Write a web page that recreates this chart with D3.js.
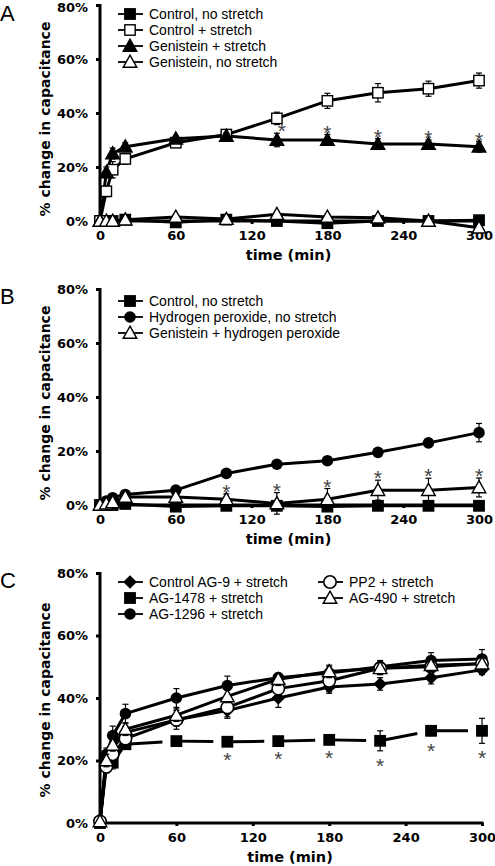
<!DOCTYPE html>
<html><head><meta charset="utf-8">
<script src="https://cdn.jsdelivr.net/npm/d3@7"></script>
<style>body{margin:0;background:#fff}svg{display:block}</style>
</head><body><svg id="c" width="495" height="866"></svg>
<script>
// ---------- DATA ----------
const times = [0, 5, 10, 20, 60, 100, 140, 180, 220, 260, 300];
const xTicks = [0, 60, 120, 180, 240, 300];
const yTicks = [0, 20, 40, 60, 80];

// Panel A
const aControlNoStretch    = [0, 0, 0, 0.5, -0.5, 0.5, 0, -0.8, 0, 0, 0.3];
const aControlNoStretchErr = [0, 0, 0, 0, 0.5, 0.5, 0.5, 0.5, 0.5, 0.5, 0.5];
const aControlStretch      = [0, 11, 19, 23, 29, 32, 38, 44.5, 47.5, 49, 52];
const aControlStretchErr   = [0, 2, 3, 2, 1.5, 1, 2.3, 2.8, 3.4, 2.8, 2.8];
const aGenStretch          = [0, 18, 25, 27.5, 30.5, 31.5, 30, 30, 28.5, 28.5, 27.5];
const aGenStretchErr       = [0, 2, 2, 1.5, 1, 1, 2.5, 2, 2, 1.5, 2];
const aGenNoStretch        = [0, 0, 0, 0.5, 1.5, 0.7, 2.5, 1.5, 1.2, 0, -2.5];
const aGenNoStretchErr     = [0, 0, 0, 0, 1, 0.5, 1, 1, 1, 0.5, 1];
const aLabels = ["Control, no stretch", "Control + stretch", "Genistein + stretch", "Genistein, no stretch"];
const aStarTimes = [140, 180, 220, 260, 300];

// Panel B
const bControlNoStretch    = [0, 0, 0, 0.4, -0.6, -0.3, -0.3, -0.6, -0.3, -0.3, -0.3];
const bControlNoStretchErr = [0, 0, 0, 0, 0.3, 0.3, 0.3, 0.3, 0.3, 0.3, 0.3];
const bH2O2                = [0, 1.5, 2.7, 3.9, 5.5, 11.7, 15.1, 16.4, 19.5, 23, 26.8];
const bH2O2Err             = [0, 0.5, 0.5, 0.5, 1, 1, 1, 1, 1, 1.5, 3.4];
const bGenH2O2             = [0, 0.5, 1, 3, 3, 2.1, 0.6, 2.1, 5.5, 5.5, 6.5];
const bGenH2O2Err          = [0, 0.5, 0.5, 1, 1, 2, 4, 4, 3.7, 4.4, 3.5];
const bLabels = ["Control, no stretch", "Hydrogen peroxide, no stretch", "Genistein + hydrogen peroxide"];
const bStarTimes = [100, 140, 180, 220, 260, 300];

// Panel C
const cAG9      = [1, 20, 24, 29, 33, 36, 40, 43.5, 44.5, 46.5, 49];
const cAG9Err   = [0, 2, 2, 2, 2, 2, 3, 2, 2, 2, 1.5];
const cAG1478   = [0, 20, 19.3, 25.2, 26.2, 26, 26.2, 26.6, 26.3, 29.5, 29.5];
const cAG1478Err= [0, 2, 2, 1, 1, 1, 1, 1, 3.2, 1.5, 4];
const cAG1296   = [0.5, 22, 28, 35, 40, 44, 46.5, 48, 50, 52, 52.5];
const cAG1296Err= [0, 2, 3, 3, 3, 3, 1, 2, 2, 2.5, 3];
const cPP2      = [0.5, 18, 22, 27, 33, 37, 43, 45.5, 49.5, 50, 51];
const cPP2Err   = [0, 2, 2, 2, 3, 3.5, 2, 3.5, 2, 2, 2];
const cAG490    = [0.5, 20, 25, 30, 34.5, 40.5, 46, 48.5, 49.5, 50.5, 51];
const cAG490Err = [0, 2, 2, 2, 2, 2, 2, 2, 2, 2, 2];
const cLabels = ["Control AG-9 + stretch", "AG-1478 + stretch", "AG-1296 + stretch", "PP2 + stretch", "AG-490 + stretch"];
const cStarTimes = [100, 140, 180, 220, 260, 300];

// ---------- DRAWING ----------
const svg = d3.select("#c");
const tickFont = "'DejaVu Sans', Verdana, sans-serif";
const legFont = "'Liberation Sans', Arial, sans-serif";

function drawMarker(g, type, x, y) {
  const s = 5.2;
  if (type === "sqFill" || type === "sqOpen") {
    g.append("rect").attr("x", x - s).attr("y", y - s).attr("width", 2 * s).attr("height", 2 * s)
      .attr("fill", type === "sqFill" ? "#000" : "#fff").attr("stroke", "#000").attr("stroke-width", 1.4);
  } else if (type === "triFill" || type === "triOpen") {
    const t = 6.8;
    g.append("path").attr("d", `M${x},${y - t}L${x + t},${y + t * 0.78}L${x - t},${y + t * 0.78}Z`)
      .attr("fill", type === "triFill" ? "#000" : "#fff").attr("stroke", "#000").attr("stroke-width", 1.4)
      .attr("stroke-linejoin", "miter");
  } else if (type === "cirFill") {
    g.append("circle").attr("cx", x).attr("cy", y).attr("r", 5.8).attr("fill", "#000");
  } else if (type === "cirOpen") {
    g.append("circle").attr("cx", x).attr("cy", y).attr("r", 6.2).attr("fill", "#fff")
      .attr("stroke", "#000").attr("stroke-width", 1.6);
  } else if (type === "diamond") {
    const d = 6.8;
    g.append("path").attr("d", `M${x},${y - d}L${x + d},${y}L${x},${y + d}L${x - d},${y}Z`).attr("fill", "#000");
  }
}

function panel(cfg) {
  const g = svg.append("g");
  const x = d3.scaleLinear().domain([0, 300]).range([cfg.x0, cfg.x1]);
  const y = d3.scaleLinear().domain([0, 80]).range([cfg.yBottom, cfg.yTop]);

  // y axis
  const ya = g.append("g").attr("transform", `translate(${cfg.x0},0)`)
    .call(d3.axisLeft(y).tickValues(yTicks).tickFormat(d => d + "%").tickSize(4).tickPadding(8));
  ya.select(".domain").attr("stroke-width", 3).attr("d", `M0,${cfg.yTop - 1}V${cfg.yBottom + 1.5}`);
  ya.selectAll(".tick line").attr("stroke-width", 3);
  ya.selectAll("text").attr("font-family", tickFont).attr("font-weight", "bold").attr("font-size", "13px").attr("fill", "#000");
  if (cfg.topNudge) ya.selectAll(".tick").filter(d => d === 80).select("text").attr("y", cfg.topNudge);

  // x axis
  const xa = g.append("g").attr("transform", `translate(0,${cfg.yBottom})`)
    .call(d3.axisBottom(x).tickValues(xTicks).tickSize(3).tickPadding(7));
  xa.select(".domain").attr("stroke-width", 3).attr("d", `M${cfg.x0 - 1.5},0H${cfg.x1 + 1.5}`);
  xa.selectAll(".tick line").attr("stroke-width", 3);
  xa.selectAll("text").attr("font-family", tickFont).attr("font-weight", "bold").attr("font-size", "13px").attr("fill", "#000");

  // titles
  g.append("text").attr("x", (cfg.x0 + cfg.x1) / 2 - 1).attr("y", cfg.yBottom + 39)
    .attr("text-anchor", "middle").attr("font-family", tickFont).attr("font-weight", "bold")
    .attr("font-size", "14.5px").text("time (min)");
  g.append("text").attr("transform", `translate(50,${cfg.yTitle}) rotate(-90)`)
    .attr("text-anchor", "middle").attr("font-family", tickFont).attr("font-weight", "bold")
    .attr("font-size", "14px").text("% change in capacitance");
  g.append("text").attr("x", 0).attr("y", cfg.letterY).attr("font-family", legFont)
    .attr("font-size", "22px").text(cfg.letter);

  const line = d3.line().x((d, i) => x(times[i])).y(d => y(d));

  // lines
  cfg.series.forEach(s => {
    if (s.broken) {
      for (let i = 0; i < s.values.length - 1; i++) {
        const xa1 = x(times[i]), ya1 = y(s.values[i]), xb = x(times[i + 1]), yb = y(s.values[i + 1]);
        const len = Math.hypot(xb - xa1, yb - ya1);
        const trim = len > 30 ? 14 : 0;
        const f = (len - trim) / len;
        g.append("line").attr("x1", xa1).attr("y1", ya1)
          .attr("x2", xa1 + (xb - xa1) * f).attr("y2", ya1 + (yb - ya1) * f)
          .attr("stroke", "#000").attr("stroke-width", 3);
      }
    } else {
      g.append("path").datum(s.values).attr("d", line).attr("fill", "none")
        .attr("stroke", "#000").attr("stroke-width", 3).attr("stroke-linejoin", "round");
    }
  });
  // error bars + markers
  cfg.series.forEach(s => {
    s.values.forEach((v, i) => {
      const e = s.err[i];
      if (e > 0.2) {
        const cx = x(times[i]);
        const y1 = y(v + e), y2 = y(v - e);
        g.append("line").attr("x1", cx).attr("x2", cx).attr("y1", y1).attr("y2", y2).attr("stroke", "#000").attr("stroke-width", 1.2);
        g.append("line").attr("x1", cx - 3).attr("x2", cx + 3).attr("y1", y1).attr("y2", y1).attr("stroke", "#000").attr("stroke-width", 1.2);
        g.append("line").attr("x1", cx - 3).attr("x2", cx + 3).attr("y1", y2).attr("y2", y2).attr("stroke", "#000").attr("stroke-width", 1.2);
      }
    });
    s.values.forEach((v, i) => drawMarker(g, s.marker, x(times[i]), y(v)));
  });

  // asterisks
  const ss = cfg.series[cfg.starSeries];
  const fs = 21;
  cfg.starTimes.forEach(t => {
    const i = times.indexOf(t);
    const v = ss.values[i], e = ss.err[i];
    const cy = cfg.starBelow ? y(v - e) + 10 : y(v + e) - 7;
    const dx = (cfg.starShift && cfg.starShift[t]) || 0;
    g.append("text").attr("x", x(t) + dx).attr("y", cy + 0.58 * fs).attr("text-anchor", "middle")
      .attr("font-family", legFont).attr("font-size", fs + "px").attr("fill", "#444").text("*");
  });

  // legend
  cfg.legend.forEach(l => {
    const s = cfg.series[l.idx];
    if (s.broken) {
      g.append("line").attr("x1", l.x).attr("x2", l.x + 13).attr("y1", l.y).attr("y2", l.y).attr("stroke", "#000").attr("stroke-width", 1.8);
    } else {
      g.append("line").attr("x1", l.x - 12).attr("x2", l.x + 13).attr("y1", l.y).attr("y2", l.y).attr("stroke", "#000").attr("stroke-width", 1.8);
    }
    drawMarker(g, s.marker, l.x, l.y);
    g.append("text").attr("x", l.x + 19).attr("y", l.y + 5).attr("font-family", legFont)
      .attr("font-size", "14px").attr("fill", "#000").text(s.label);
  });
}

panel({
  letter: "A", letterY: 21, x0: 100, x1: 479, yTop: 5, yBottom: 221, yTitle: 119, topNudge: 2,
  series: [
    { label: aLabels[0], values: aControlNoStretch, err: aControlNoStretchErr, marker: "sqFill" },
    { label: aLabels[1], values: aControlStretch, err: aControlStretchErr, marker: "sqOpen" },
    { label: aLabels[2], values: aGenStretch, err: aGenStretchErr, marker: "triFill" },
    { label: aLabels[3], values: aGenNoStretch, err: aGenNoStretchErr, marker: "triOpen" }
  ],
  starSeries: 2, starTimes: aStarTimes, starShift: { 140: 5 },
  legend: [{ idx: 0, x: 130, y: 14 }, { idx: 1, x: 130, y: 30 }, { idx: 2, x: 130, y: 46 }, { idx: 3, x: 130, y: 62 }]
});

panel({
  letter: "B", letterY: 304, x0: 100, x1: 479, yTop: 289, yBottom: 505, yTitle: 403,
  series: [
    { label: bLabels[0], values: bControlNoStretch, err: bControlNoStretchErr, marker: "sqFill" },
    { label: bLabels[1], values: bH2O2, err: bH2O2Err, marker: "cirFill" },
    { label: bLabels[2], values: bGenH2O2, err: bGenH2O2Err, marker: "triOpen" }
  ],
  starSeries: 2, starTimes: bStarTimes,
  legend: [{ idx: 0, x: 130, y: 301 }, { idx: 1, x: 130, y: 317 }, { idx: 2, x: 130, y: 333 }]
});

panel({
  letter: "C", letterY: 588, x0: 100, x1: 482, yTop: 573, yBottom: 823, yTitle: 700,
  series: [
    { label: cLabels[0], values: cAG9, err: cAG9Err, marker: "diamond" },
    { label: cLabels[1], values: cAG1478, err: cAG1478Err, marker: "sqFill", broken: true },
    { label: cLabels[2], values: cAG1296, err: cAG1296Err, marker: "cirFill" },
    { label: cLabels[3], values: cPP2, err: cPP2Err, marker: "cirOpen" },
    { label: cLabels[4], values: cAG490, err: cAG490Err, marker: "triOpen" }
  ],
  starSeries: 1, starTimes: cStarTimes, starBelow: true,
  legend: [{ idx: 0, x: 130, y: 582 }, { idx: 1, x: 130, y: 598 }, { idx: 2, x: 130, y: 614 },
           { idx: 3, x: 330, y: 582 }, { idx: 4, x: 330, y: 598 }]
});
</script></body></html>
